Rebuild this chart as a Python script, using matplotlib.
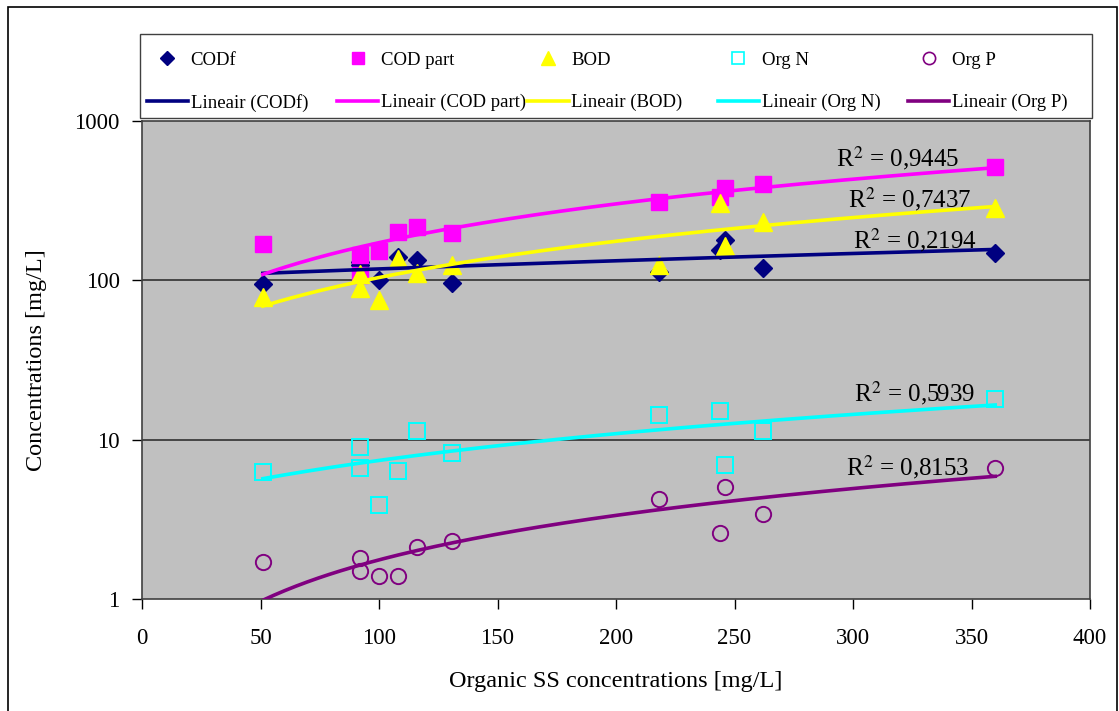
import numpy as np
import matplotlib
matplotlib.use("Agg")
import matplotlib.pyplot as plt
from matplotlib.lines import Line2D
from matplotlib.patches import Rectangle

plt.rcParams['font.family'] = ['Liberation Serif', 'DejaVu Serif']
plt.rcParams['mathtext.fontset'] = 'stix'

# ---- data ----
x_ss = [51, 92, 92, 100, 108, 116, 131, 218, 244, 246, 262, 360]
codf = [95, 130, 125, 100, 141, 134, 96, 113, 155, 179, 119, 149]
cod_part = [169, 144, 108, 153, 202, 215, 198, 312, 332, 379, 401, 517]
bod = [79, 110, 89, 75, 137, 111, 125, 125, 305, 164, 234, 284]
org_n = [6.3, 9.0, 6.6, 3.9, 6.4, 11.4, 8.3, 14.3, 15.1, 6.9, 11.4, 18.0]
org_p = [1.71, 1.82, 1.50, 1.40, 1.40, 2.13, 2.31, 4.24, 2.61, 5.02, 3.40, 6.6]

series_names = ['CODf', 'COD part', 'BOD', 'Org N', 'Org P']
r2_labels = ['0,2194', '0,9445', '0,7437', '0,5939', '0,8153']
x_ticks = [0, 50, 100, 150, 200, 250, 300, 350, 400]
y_ticks = [1, 10, 100, 1000]

colors = ['#000080', '#FF00FF', '#FFFF00', '#00FFFF', '#800080']
markers = ['D', 's', '^', 's', 'o']
msizes = [9.5, 11.5, 12.5, 11, 11]
filled = [True, True, True, False, False]
ys = [codf, cod_part, bod, org_n, org_p]
r2_pos = [(326, 179), (319, 587), (324, 324), (326, 19.6), (323, 6.74)]

W, H = 1119, 711
fig = plt.figure(figsize=(W / 100, H / 100), dpi=100)
fig.patch.set_facecolor('white')
ax = fig.add_axes([142 / W, 1 - 599 / H, (1090 - 142) / W, (599 - 121) / H])
ax.set_facecolor('#C0C0C0')
ax.set_yscale('log')
ax.set_xlim(0, 400)
ax.set_ylim(1, 1000)
ax.set_xticks(x_ticks)
ax.set_yticks(y_ticks)
ax.set_yticklabels([str(v) for v in y_ticks])
ax.minorticks_off()
ax.tick_params(axis='both', direction='out', length=7, width=1, labelsize=16.5, colors='black')
ax.tick_params(axis='x', pad=14)
ax.tick_params(axis='y', pad=9)
for y in [10, 100]:
    ax.axhline(y, color='#303030', lw=1.2, zorder=1)
for s in ax.spines.values():
    s.set_color('#404040')
    s.set_linewidth(1.2)

xs = np.array(x_ss, dtype=float)
xfit = np.linspace(xs.min(), xs.max(), 200)
marker_handles = []
line_handles = []
for name, yv, c, m, ms, f in zip(series_names, ys, colors, markers, msizes, filled):
    yv = np.array(yv, dtype=float)
    if f:
        ax.plot(xs, yv, linestyle='none', marker=m, markersize=ms, color=c,
                markeredgecolor=c, zorder=3)
    else:
        ax.plot(xs, yv, linestyle='none', marker=m, markersize=ms, markerfacecolor='none',
                markeredgecolor=c, markeredgewidth=1.4, zorder=3)
    b, a = np.polyfit(xs, yv, 1)
    yfit = a + b * xfit
    mask = yfit > 0
    ax.plot(xfit[mask], yfit[mask], color=c, lw=2.6, zorder=4)
    if f:
        marker_handles.append(Line2D([], [], linestyle='none', marker=m, markersize=ms * 0.8,
                                     color=c, markeredgecolor=c))
    else:
        marker_handles.append(Line2D([], [], linestyle='none', marker=m, markersize=ms * 0.8,
                                     markerfacecolor='none', markeredgecolor=c, markeredgewidth=1.2))
    line_handles.append(Line2D([], [], color=c, lw=2.6))

for lab, (px, py) in zip(r2_labels, r2_pos):
    ax.text(px, py, r'R$^{2}$ = ' + lab, ha='center', va='center', fontsize=18, zorder=5)

ax.set_ylabel('Concentrations [mg/L]', fontsize=17.5, labelpad=20)
ax.set_xlabel('Organic SS concentrations [mg/L]', fontsize=17.5, labelpad=16)

# legend: five equal-width columns inside one frame
leg_left, leg_right, leg_top, leg_bot = 140, 1092, 34, 118
fig.add_artist(Rectangle((leg_left / W, 1 - leg_bot / H), (leg_right - leg_left) / W,
                         (leg_bot - leg_top) / H, fill=True, facecolor='white',
                         edgecolor='#404040', lw=1.0, transform=fig.transFigure, zorder=1))
col_w = (leg_right - leg_left) / 5.0
for i, (name, mh, lh) in enumerate(zip(series_names, marker_handles, line_handles)):
    x0 = (leg_left + 1 + i * col_w) / W
    lg = fig.legend([mh, lh], [name, 'Lineair (%s)' % name], loc='upper left',
                    bbox_to_anchor=(x0, 1 - (leg_top + 12) / H), fontsize=13.5, frameon=False,
                    handlelength=2.2, handletextpad=0.15, labelspacing=1.35, borderpad=0.3,
                    borderaxespad=0)
    lg.set_zorder(2)

fig.add_artist(Rectangle((8 / W, -0.01), (1117 - 8) / W, (711 - 7) / H + 0.01, fill=False,
                         edgecolor='black', lw=1.2, transform=fig.transFigure))

fig.savefig('out.png', dpi=100, facecolor='white')
